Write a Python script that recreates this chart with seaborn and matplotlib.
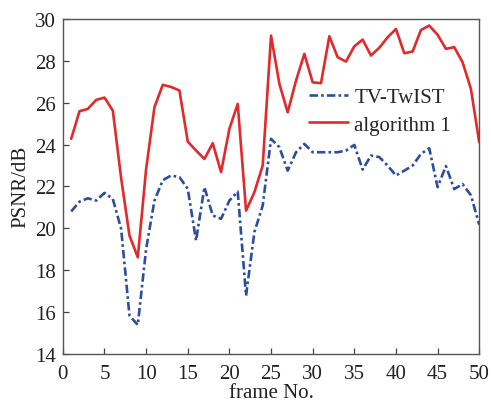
import matplotlib
matplotlib.use("Agg")
import matplotlib.pyplot as plt
import numpy as np
import pandas as pd
import seaborn as sns

# PSNR per frame for the two reconstruction methods
frames = list(range(1, 51))
tv_twist = [20.80, 21.27, 21.43, 21.32, 21.69, 21.40, 19.97, 15.83, 15.38, 19.01,
            21.32, 22.29, 22.52, 22.44, 21.88, 19.41, 21.96, 20.61, 20.45, 21.32,
            21.75, 16.78, 19.81, 21.08, 24.27, 23.87, 22.75, 23.63, 24.03, 23.63,
            23.63, 23.63, 23.63, 23.71, 23.98, 22.80, 23.47, 23.40, 22.99, 22.52,
            22.75, 22.99, 23.55, 23.82, 21.96, 22.97, 21.87, 22.11, 21.58, 20.17]
algorithm_1 = [24.27, 25.59, 25.70, 26.13, 26.24, 25.62, 22.40, 19.65, 18.61, 22.83,
               25.78, 26.85, 26.75, 26.58, 24.14, 23.71, 23.31, 24.06, 22.68, 24.75,
               25.94, 20.84, 21.72, 23.00, 29.20, 26.90, 25.54, 27.05, 28.33, 26.97,
               26.93, 29.17, 28.17, 27.96, 28.69, 29.01, 28.25, 28.62, 29.12, 29.52,
               28.36, 28.44, 29.47, 29.68, 29.24, 28.57, 28.65, 27.93, 26.66, 24.11]
series_names = ["TV-TwIST", "algorithm 1"]
x_ticks = list(range(0, 51, 5))
y_ticks = list(range(14, 31, 2))

df = pd.DataFrame({
    "frame": frames * 2,
    "psnr": tv_twist + algorithm_1,
    "method": [series_names[0]] * len(frames) + [series_names[1]] * len(frames),
})

sns.set_theme(style="ticks")
plt.rcParams["font.family"] = ["Liberation Serif", "DejaVu Serif"]

fig = plt.figure(figsize=(4.91, 4.06), dpi=100)
ax = fig.add_axes([0.128, 0.126, 0.848, 0.825])

palette = {series_names[0]: "#2b4f9e", series_names[1]: "#e02a2c"}
sns.lineplot(data=df, x="frame", y="psnr", hue="method", style="method",
             palette=palette,
             dashes={series_names[0]: (3.2, 1.2, 1.0, 1.2), series_names[1]: ""},
             linewidth=1.9, ax=ax, legend=True)

ax.set_xlim(0, 50)
ax.set_ylim(14, 30)
ax.set_xticks(x_ticks)
ax.set_yticks(y_ticks)
ax.tick_params(direction="in", length=4, width=0.9, color="#444444",
               labelsize=15, labelcolor="#222222", top=False, right=False)
ax.tick_params(axis="x", pad=7)
ax.tick_params(axis="y", pad=5)
for s in ax.spines.values():
    s.set_color("#555555")
    s.set_linewidth(1.0)

ax.set_xlabel("frame No.", fontsize=15, color="#222222", labelpad=0)
ax.set_ylabel("PSNR/dB", fontsize=15, color="#222222", labelpad=3)

handles, labels = ax.get_legend_handles_labels()
ax.legend(handles, labels, loc="center left", bbox_to_anchor=(0.57, 0.725),
          frameon=False, fontsize=15, handlelength=1.9, handletextpad=0.3,
          labelspacing=0.4, borderaxespad=0.0)

fig.savefig("out.png", dpi=100)
